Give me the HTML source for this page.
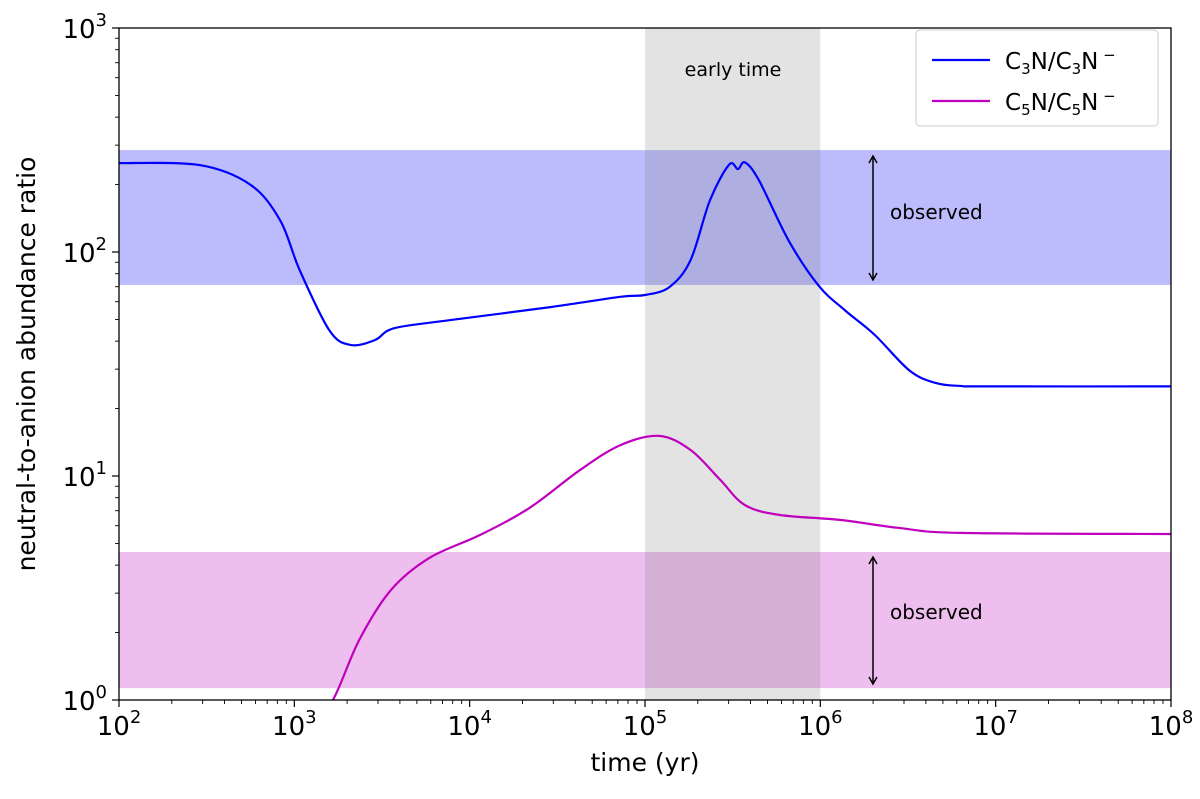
<!DOCTYPE html>
<html><head><meta charset="utf-8"><style>
body{margin:0;background:#fff}
svg text{font-family:"DejaVu Sans","Liberation Sans",sans-serif}
</style></head><body>
<svg id="chart" width="1200" height="794" xmlns="http://www.w3.org/2000/svg">
<defs><clipPath id="clip"><rect x="119" y="28" width="1052" height="672"/></clipPath></defs>
<g id="bands" clip-path="url(#clip)"></g>
<g id="lines" clip-path="url(#clip)"></g>
<g id="axes"></g>
</svg>
<script>
const NS="http://www.w3.org/2000/svg";
const logTime=[2,2.46,2.75,2.92,3.03,3.2,3.32,3.46,3.57,3.89,4.46,4.86,5.0,5.14,5.26,5.37,5.48,5.53,5.57,5.65,5.82,5.99,6.14,6.31,6.51,6.66,6.8,6.95,8];
const logC3N=[2.397,2.388,2.30,2.14,1.92,1.65,1.585,1.607,1.66,1.696,1.754,1.80,1.808,1.844,1.964,2.23,2.39,2.37,2.40,2.32,2.05,1.85,1.74,1.63,1.47,1.415,1.402,1.40,1.40];
const logTime5=[3.1,3.22,3.37,3.55,3.77,4.06,4.34,4.63,4.86,5.08,5.26,5.43,5.57,5.77,6.11,6.45,6.8,8];
const logC5N=[-0.1,0,0.268,0.49,0.634,0.737,0.857,1.027,1.138,1.179,1.116,0.982,0.87,0.826,0.804,0.768,0.746,0.741];
const observedC3N=[71.3,285];
const observedC5N=[1.13,4.58];
const earlyTime=[1e5,1e6];
const xTicks=[2,3,4,5,6,7,8];
const yTicks=[0,1,2,3];
const X0=119,X1=1171,Y0=700,Y1=28;
const xs=l=>X0+(l-2)/6*(X1-X0);
const ys=l=>Y0-(l-0)/3*(Y0-Y1);
const svg=document.getElementById('chart');
function mk(tag,attrs,parent){const e=document.createElementNS(NS,tag);for(const k in attrs)e.setAttribute(k,attrs[k]);(parent||svg).appendChild(e);return e;}
const bands=document.getElementById('bands'),lines=document.getElementById('lines'),axes=document.getElementById('axes');
let r=mk('rect',{x:X0,y:ys(Math.log10(observedC3N[1])),width:X1-X0,height:ys(Math.log10(observedC3N[0]))-ys(Math.log10(observedC3N[1])),fill:'#bcbcfc'},bands);


r=mk('rect',{x:X0,y:ys(Math.log10(observedC5N[1])),width:X1-X0,height:ys(Math.log10(observedC5N[0]))-ys(Math.log10(observedC5N[1])),fill:'#eebeee'},bands);


r=mk('rect',{x:xs(Math.log10(earlyTime[0])),y:Y1,width:xs(Math.log10(earlyTime[1]))-xs(Math.log10(earlyTime[0])),height:Y0-Y1,fill:'#808080','fill-opacity':0.22},bands);


function smooth(px,py){let d=`M${px[0]},${py[0]}`;for(let i=0;i<px.length-1;i++){const p0=i?i-1:i,p3=i+2<px.length?i+2:i+1;const c1x=px[i]+(px[i+1]-px[p0])/6,c1y=py[i]+(py[i+1]-py[p0])/6,c2x=px[i+1]-(px[p3]-px[i])/6,c2y=py[i+1]-(py[p3]-py[i])/6;d+=`C${c1x},${c1y} ${c2x},${c2y} ${px[i+1]},${py[i+1]}`;}return d;}
let p=mk('path',{d:smooth(logTime.map(xs),logC3N.map(ys)),fill:'none',stroke:'#0000ff','stroke-width':2.2},lines);


p=mk('path',{d:smooth(logTime5.map(xs),logC5N.map(ys)),fill:'none',stroke:'#bf00bf','stroke-width':2.2},lines);


function arrow(x,ya,yb,name){const g=mk('g',{stroke:'#000','stroke-width':1.5,fill:'none'});mk('line',{x1:x,y1:ya,x2:x,y2:yb},g);mk('path',{d:`M${x-4},${ya+7}L${x},${ya}L${x+4},${ya+7}M${x-4},${yb-7}L${x},${yb}L${x+4},${yb-7}`},g);}
arrow(873,156,280,'observed-arrow-c3n');arrow(873,557,684,'observed-arrow-c5n');
let t=mk('text',{x:890,y:219,'font-size':20});t.textContent='observed';
t=mk('text',{x:890,y:619,'font-size':20});t.textContent='observed';
t=mk('text',{x:733,y:76,'font-size':19,'text-anchor':'middle'});t.textContent='early time';
r=mk('rect',{x:X0,y:Y1,width:X1-X0,height:Y0-Y1,fill:'none',stroke:'#000','stroke-width':1.3},axes);

xTicks.forEach((l,i)=>{const x=xs(l);mk('line',{x1:x,y1:Y0,x2:x,y2:Y0+7,stroke:'#000','stroke-width':1.2},axes);
 if(i<xTicks.length-1)for(let m=2;m<10;m++){const xm=xs(l+Math.log10(m));mk('line',{x1:xm,y1:Y0,x2:xm,y2:Y0+4,stroke:'#000','stroke-width':0.9},axes);}
 const tx=mk('text',{x:x,y:Y0+35,'font-size':26,'text-anchor':'middle'},axes);tx.innerHTML=`10<tspan dy="-12" font-size="18">${l}</tspan>`;
 });
yTicks.forEach((l,i)=>{const y=ys(l);mk('line',{x1:X0-7,y1:y,x2:X0,y2:y,stroke:'#000','stroke-width':1.2},axes);
 if(i<yTicks.length-1)for(let m=2;m<10;m++){const ym=ys(l+Math.log10(m));mk('line',{x1:X0-4,y1:ym,x2:X0,y2:ym,stroke:'#000','stroke-width':0.9},axes);}
 const tx=mk('text',{x:X0-12,y:y+10,'font-size':26,'text-anchor':'end'},axes);tx.innerHTML=`10<tspan dy="-12" font-size="18">${l}</tspan>`;
 });
t=mk('text',{x:645,y:771,'font-size':25,'text-anchor':'middle'},axes);t.textContent='time (yr)';
t=mk('text',{x:0,y:0,'font-size':25,'text-anchor':'middle',transform:'translate(35,364) rotate(-90)'},axes);t.textContent='neutral-to-anion abundance ratio';
const lg=mk('g',{},axes);
mk('rect',{x:916,y:30,width:242,height:96,rx:4,fill:'#fff','fill-opacity':0.85,stroke:'#ccc'},lg);
mk('line',{x1:932,y1:60,x2:990,y2:60,stroke:'#0000ff','stroke-width':2.2},lg);
mk('line',{x1:932,y1:101,x2:990,y2:101,stroke:'#bf00bf','stroke-width':2.2},lg);
t=mk('text',{x:1005,y:69,'font-size':23},lg);t.innerHTML='C<tspan dy="5" font-size="15">3</tspan><tspan dy="-5">N/C</tspan><tspan dy="5" font-size="15">3</tspan><tspan dy="-5">N</tspan><tspan dy="-9" font-size="15"> −</tspan>';

t=mk('text',{x:1005,y:110,'font-size':23},lg);t.innerHTML='C<tspan dy="5" font-size="15">5</tspan><tspan dy="-5">N/C</tspan><tspan dy="5" font-size="15">5</tspan><tspan dy="-5">N</tspan><tspan dy="-9" font-size="15"> −</tspan>';

</script>
</body></html>
